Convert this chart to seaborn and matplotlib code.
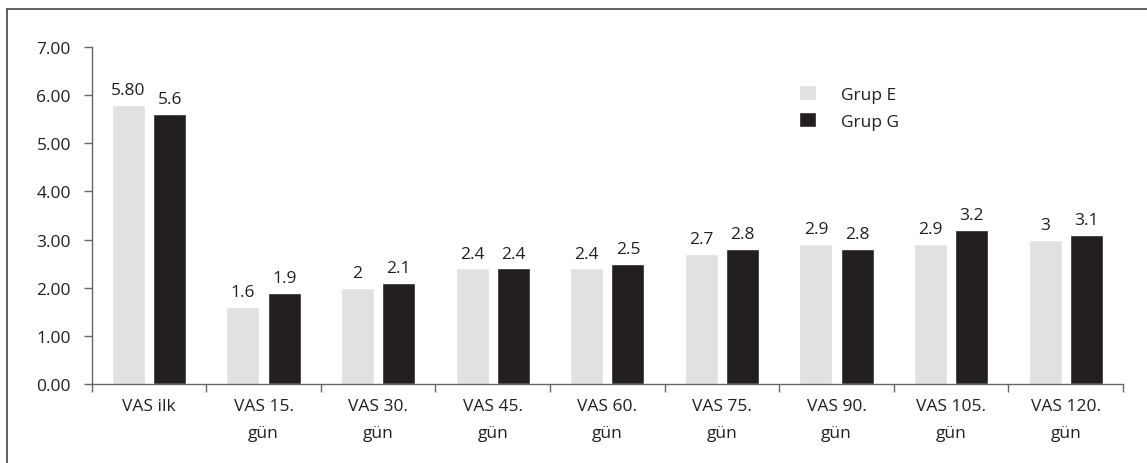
import pandas as pd
import numpy as np
import matplotlib
matplotlib.use("Agg")
import matplotlib.pyplot as plt
import seaborn as sns

# Data
categories = ["VAS ilk", "VAS 15.\ngün", "VAS 30.\ngün", "VAS 45.\ngün", "VAS 60.\ngün",
              "VAS 75.\ngün", "VAS 90.\ngün", "VAS 105.\ngün", "VAS 120.\ngün"]
grup_e = [5.80, 1.6, 2.0, 2.4, 2.4, 2.7, 2.9, 2.9, 3.0]
grup_g = [5.6, 1.9, 2.1, 2.4, 2.5, 2.8, 2.8, 3.2, 3.1]
labels_e = ["5.80", "1.6", "2", "2.4", "2.4", "2.7", "2.9", "2.9", "3"]
labels_g = ["5.6", "1.9", "2.1", "2.4", "2.5", "2.8", "2.8", "3.2", "3.1"]
groups = ["Grup E", "Grup G"]
y_ticks = [0, 1, 2, 3, 4, 5, 6, 7]

df = pd.DataFrame({
    "kategori": categories * 2,
    "grup": [groups[0]] * len(categories) + [groups[1]] * len(categories),
    "deger": grup_e + grup_g,
})

sns.set_style("white")
plt.rcParams["font.family"] = ["Open Sans", "DejaVu Sans"]
fs = 12.5

fig = plt.figure(figsize=(11.47, 4.64), dpi=100)
ax = fig.add_axes([0.080, 0.170, 0.899, 0.727])

palette = {"Grup E": "#e0e1e2", "Grup G": "#231f20"}
sns.barplot(data=df, x="kategori", y="deger", hue="grup", palette=palette,
            width=0.72, gap=0.2, ax=ax, saturation=1)

# value labels
for cont, labs in zip(ax.containers, [labels_e, labels_g]):
    ax.bar_label(cont, labels=labs, padding=5, fontsize=fs, color="#231f20")

ax.set_ylim(0, 7)
ax.set_yticks(y_ticks)
ax.set_yticklabels([f"{v:.2f}" for v in y_ticks])
ax.set_xlim(-0.5, len(categories) - 0.5)
ax.set_xlabel("")
ax.set_ylabel("")

# ticks between categories on the x axis
ax.set_xticks(np.arange(len(categories)))
ax.set_xticklabels(categories, linespacing=1.9)
ax.tick_params(axis="x", which="major", bottom=True, length=0, pad=10,
               labelsize=fs, labelcolor="#231f20")
ax.set_xticks(np.arange(len(categories) + 1) - 0.5, minor=True)
ax.tick_params(axis="x", which="minor", bottom=True, length=6, width=1,
               color="#666666", direction="out")
ax.tick_params(axis="y", left=True, length=6, width=1, color="#666666",
               direction="out", pad=9, labelsize=fs, labelcolor="#231f20")

for s in ["top", "right"]:
    ax.spines[s].set_visible(False)
for s in ["left", "bottom"]:
    ax.spines[s].set_color("#666666")
    ax.spines[s].set_linewidth(1)

leg = ax.legend(loc="upper left", bbox_to_anchor=(0.686, 0.886), frameon=False,
                handlelength=0.95, handleheight=0.95, handletextpad=1.45,
                labelspacing=0.55, fontsize=fs, borderaxespad=0, borderpad=0)
for t in leg.get_texts():
    t.set_color("#231f20")

# outer frame: top and left lines only
fig.add_artist(plt.Line2D([7 / 1147, 1], [1 - 9.5 / 464, 1 - 9.5 / 464],
                          transform=fig.transFigure, color="#444444", lw=1.2))
fig.add_artist(plt.Line2D([7 / 1147, 7 / 1147], [0, 1 - 9.5 / 464],
                          transform=fig.transFigure, color="#444444", lw=1.2))

fig.savefig("out.png", dpi=100)
